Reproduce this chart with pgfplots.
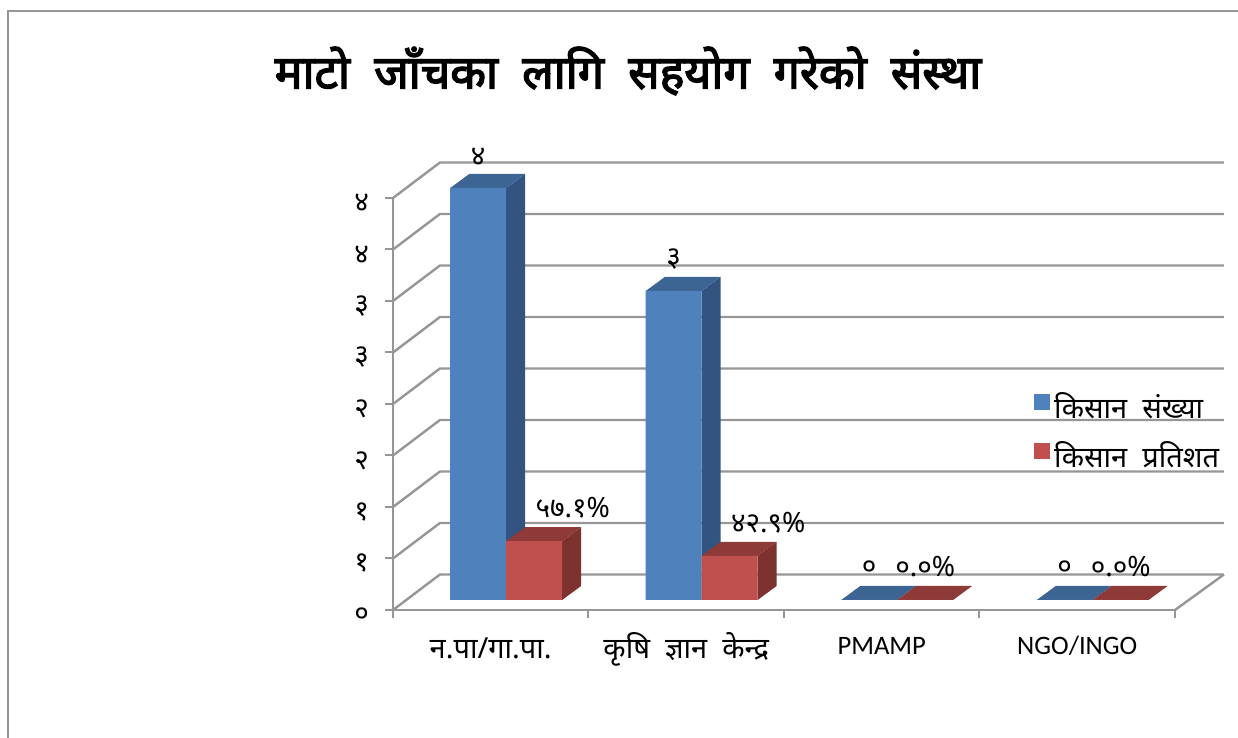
\documentclass[border=0pt]{standalone}
\usepackage{fontspec}
\usepackage{pgfplots}
\pgfplotsset{compat=1.18}
\setmainfont[Script=Devanagari,WordSpace=2]{Noto Sans}
\newfontfamily\titlefont[Script=Devanagari,FakeBold=3,WordSpace=2]{Noto Sans}
\newfontfamily\carlito{Carlito}

\definecolor{gridgray}{HTML}{969696}
\definecolor{bluefront}{HTML}{4F81BD}
\definecolor{bluetop}{HTML}{3D6594}
\definecolor{blueside}{HTML}{335380}
\definecolor{redfront}{HTML}{C0504D}
\definecolor{redtop}{HTML}{8E3A38}
\definecolor{redside}{HTML}{7D3230}

% 1 px of the reference = 0.5pt here
\pgfplotsset{
  face/.style={fill=#1, draw=none, forget plot, yshift=5pt},
  front/.style={ybar, bar width=28pt, fill=#1, draw=none, forget plot, yshift=5pt,
    point meta=explicit symbolic, nodes near coords},
}
\newcommand{\lowered}[1]{\raisebox{-2pt}{#1}}

\begin{document}
\begin{tikzpicture}
\path[use as bounding box] (-196.5pt,-64pt) rectangle (422.5pt,305pt);
\draw[gridgray, line width=0.8pt] (-192.5pt,-64pt) -- (-192.5pt,299.5pt) -- (422.5pt,299.5pt);
\node[font=\fontsize{23.25}{28}\titlefont] at (117.5pt,269.5pt) {माटो जाँचका लागि सहयोग गरेको संस्था};
\begin{axis}[
  at={(0pt,0pt)}, anchor=origin,
  scale only axis, width=391pt, height=206pt,
  xmin=0, xmax=4, ymin=0, ymax=4,
  clip=false,
  axis x line*=bottom, axis y line*=left,
  axis line style={draw=gridgray, line width=1pt, -},
  tick style={draw=gridgray, line width=1pt},
  tick align=outside, major tick length=4pt,
  xtick={0,1,2,3,4}, xticklabels={},
  extra x ticks={0.5,1.5,2.5,3.5},
  extra x tick labels={\lowered{न.पा/गा.पा.},\lowered{कृषि ज्ञान केन्द्र},{\fontsize{13.3}{16}\carlito PMAMP},{\fontsize{13.3}{16}\carlito NGO/INGO}},
  extra x tick style={tick style={draw=none},
    xticklabel style={anchor=base, yshift=-18.5pt, font=\fontsize{14.5}{17}\selectfont}},
  ytick={0,0.5,1,1.5,2,2.5,3,3.5,4},
  yticklabels={०,१,१,२,२,३,३,४,४},
  yticklabel style={font=\fontsize{14}{16}\selectfont, xshift=-4.5pt, yshift=-2.5pt},
  legend style={at={(axis cs:3.279,2.15)}, anchor=north west, draw=none, fill=none,
    inner sep=0pt, font=\fontsize{14.5}{17}\selectfont, row sep=9pt},
  legend cell align=left,
]
% back wall, left wall and floor
\addplot[gridgray, line width=1.2pt, forget plot, unbounded coords=jump] coordinates {
  (0,0)(0.2404,0.345)(4.2506,0.345) (nan,nan)
  (0,0.5)(0.2404,0.845)(4.2506,0.845) (nan,nan)
  (0,1)(0.2404,1.345)(4.2506,1.345) (nan,nan)
  (0,1.5)(0.2404,1.845)(4.2506,1.845) (nan,nan)
  (0,2)(0.2404,2.345)(4.2506,2.345) (nan,nan)
  (0,2.5)(0.2404,2.845)(4.2506,2.845) (nan,nan)
  (0,3)(0.2404,3.345)(4.2506,3.345) (nan,nan)
  (0,3.5)(0.2404,3.845)(4.2506,3.845) (nan,nan)
  (0,4)(0.2404,4.345)(4.2506,4.345) (nan,nan)
  (4,0)(4.2506,0.345)
};

% blue series: side and top faces
\addplot[face=blueside] coordinates {(0.579,0)(0.676,0.136)(0.676,4.136)(0.579,4)};
\addplot[face=bluetop] coordinates {(0.293,4)(0.579,4)(0.676,4.136)(0.390,4.136)};
\addplot[face=blueside] coordinates {(1.579,0)(1.676,0.136)(1.676,3.136)(1.579,3)};
\addplot[face=bluetop] coordinates {(1.293,3)(1.579,3)(1.676,3.136)(1.390,3.136)};
\addplot[face=bluetop] coordinates {(2.293,0)(2.579,0)(2.676,0.136)(2.390,0.136)};
\addplot[face=bluetop] coordinates {(3.293,0)(3.579,0)(3.676,0.136)(3.390,0.136)};
% blue series: fronts
\addplot[front=bluefront, bar shift=-6.25pt,
  every node near coord/.append style={anchor=center, xshift=-6.25pt, yshift=15.75pt, font=\fontsize{14}{16}\selectfont}]
  coordinates {(0.5,4)[४] (1.5,3)[३] (2.5,0)[०] (3.5,0)[०]};

% red series: side and top faces
\addplot[face=redside] coordinates {(0.865,0)(0.962,0.136)(0.962,0.707)(0.865,0.571)};
\addplot[face=redtop] coordinates {(0.579,0.571)(0.865,0.571)(0.962,0.707)(0.676,0.707)};
\addplot[face=redside] coordinates {(1.865,0)(1.962,0.136)(1.962,0.565)(1.865,0.429)};
\addplot[face=redtop] coordinates {(1.579,0.429)(1.865,0.429)(1.962,0.565)(1.676,0.565)};
\addplot[face=redtop] coordinates {(2.579,0)(2.865,0)(2.962,0.136)(2.676,0.136)};
\addplot[face=redtop] coordinates {(3.579,0)(3.865,0)(3.962,0.136)(3.676,0.136)};
% red series: fronts
\addplot[front=redfront, bar shift=21.75pt,
  every node near coord/.append style={anchor=center, xshift=41pt, yshift=16.5pt, font=\fontsize{14}{16}\selectfont}]
  coordinates {(0.5,0.571)[५७.१\%] (1.5,0.429)[४२.९\%]};
\addplot[front=redfront, bar shift=21.75pt,
  every node near coord/.append style={anchor=center, xshift=21.75pt, yshift=16.5pt, font=\fontsize{14}{16}\selectfont}]
  coordinates {(2.5,0)[०.०\%] (3.5,0)[०.०\%]};

\addlegendimage{legend image code/.code={\fill[bluefront] (0pt,-2.5pt) rectangle (7.5pt,5pt);}}
\addlegendimage{legend image code/.code={\fill[redfront] (0pt,-2.5pt) rectangle (7.5pt,5pt);}}
\legend{\raisebox{-3pt}{किसान संख्या},\raisebox{-3pt}{किसान प्रतिशत}}
\end{axis}
\end{tikzpicture}
\end{document}
